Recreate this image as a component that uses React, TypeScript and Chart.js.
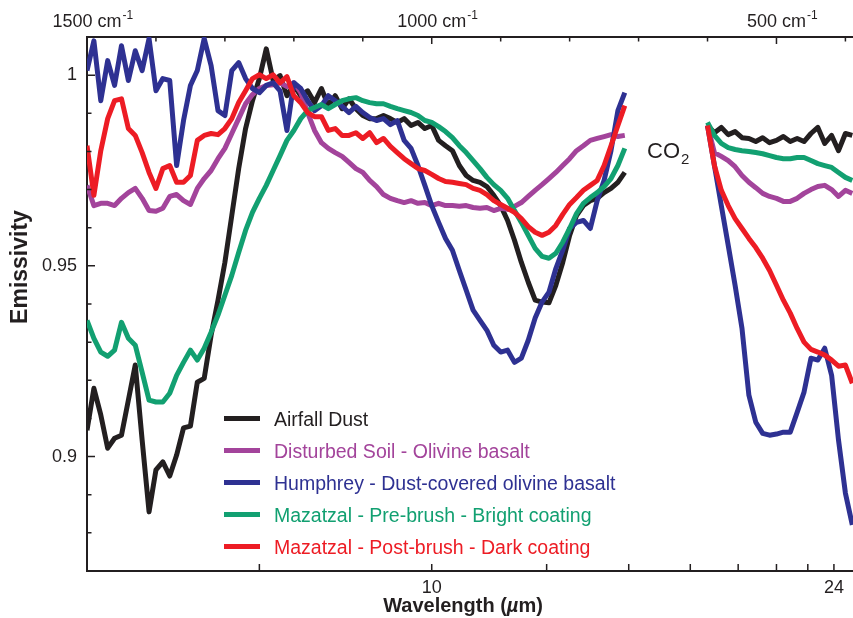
import React, { useEffect, useRef } from "react";
import { Chart, registerables } from "chart.js";

Chart.register(...registerables);

// ---------- data ----------
const WAVENUMBER_LEFT = [
  1500, 1490, 1480, 1470, 1460, 1450, 1440, 1430, 1420, 1410,
  1400, 1390, 1380, 1370, 1360, 1350, 1340, 1330, 1320, 1310,
  1300, 1290, 1280, 1270, 1260, 1250, 1240, 1230, 1220, 1210,
  1200, 1190, 1180, 1170, 1160, 1150, 1140, 1130, 1120, 1110,
  1100, 1090, 1080, 1070, 1060, 1050, 1040, 1030, 1020, 1010,
  1000, 990, 980, 970, 960, 950, 940, 930, 920, 910,
  900, 890, 880, 870, 860, 850, 840, 830, 820, 810,
  800, 790, 780, 770, 760, 750, 740, 730, 720,
];
const WAVENUMBER_RIGHT = [
  600, 590, 580, 570, 560, 550, 540, 530, 520, 510, 500,
  490, 480, 470, 460, 450, 440, 430, 420, 410, 400, 390,
];

const AIRFALL_LEFT = [
  0.9069, 0.9179, 0.9109, 0.9022, 0.9048, 0.9056, 0.9148, 0.924, 0.9043, 0.8855,
  0.8965, 0.8986, 0.8949, 0.9004, 0.9075, 0.908, 0.9195, 0.9205, 0.9318, 0.941,
  0.9509, 0.9632, 0.9755, 0.986, 0.9933, 0.9991, 1.0069, 0.9986, 0.9999, 0.9946,
  0.9973, 0.9946, 0.9959, 0.9928, 0.9965, 0.992, 0.9946, 0.9912, 0.9938, 0.9912,
  0.9894, 0.9886, 0.9886, 0.9894, 0.9886, 0.9876, 0.9886, 0.9868, 0.9876, 0.986,
  0.9868, 0.9829, 0.9815, 0.9802, 0.9763, 0.9737, 0.9724, 0.9719, 0.9708, 0.9685,
  0.9658, 0.9619, 0.9567, 0.9509, 0.9457, 0.941, 0.9405, 0.9403, 0.9449, 0.9509,
  0.958, 0.9632, 0.9658, 0.9671, 0.9677, 0.9692, 0.9703, 0.9719, 0.9745,
];
const AIRFALL_RIGHT = [
  0.9868, 0.9849, 0.9863, 0.9844, 0.9852, 0.9836, 0.9834, 0.9826, 0.9836, 0.9823, 0.9829,
  0.9839, 0.9826, 0.9834, 0.9826, 0.9847, 0.9863, 0.9821, 0.9842, 0.9802, 0.9847, 0.9842,
];

const SOIL_LEFT = [
  0.9711, 0.9658, 0.9664, 0.9664, 0.9658, 0.9677, 0.9692, 0.9703, 0.9677, 0.9645,
  0.9643, 0.9651, 0.9682, 0.9687, 0.9671, 0.9661, 0.9703, 0.9729, 0.975, 0.9781,
  0.9808, 0.9847, 0.9886, 0.9925, 0.9949, 0.9965, 0.9973, 0.9975, 0.998, 0.997,
  0.998, 0.9954, 0.9902, 0.9855, 0.9823, 0.9808, 0.9797, 0.9787, 0.9771, 0.9755,
  0.9745, 0.9724, 0.9708, 0.9687, 0.9677, 0.9671, 0.9666, 0.9671, 0.9664, 0.9666,
  0.9658, 0.9664, 0.9658, 0.9658, 0.9656, 0.9658, 0.9653, 0.9651, 0.9653, 0.9645,
  0.9651, 0.9648, 0.9656, 0.9666, 0.9682, 0.9698, 0.9713, 0.9729, 0.9745, 0.9763,
  0.9781, 0.9802, 0.9815, 0.9829, 0.9834, 0.9839, 0.9844, 0.9839, 0.9842,
];
const SOIL_RIGHT = [
  0.9868, 0.9797, 0.9787, 0.9776, 0.976, 0.9737, 0.9719, 0.9705, 0.969, 0.9682, 0.9677,
  0.9669, 0.9669, 0.9677, 0.969, 0.97, 0.9708, 0.9711, 0.97, 0.9682, 0.9698, 0.969,
];

const HUMPHREY_LEFT = [
  1.0012, 1.009, 0.9933, 1.0038, 0.9973, 1.0077, 0.9986, 1.0064, 1.0012, 1.0096,
  0.9959, 0.9991, 0.9986, 0.9763, 0.9881, 0.9973, 1.0012, 1.0096, 1.0025, 0.9907,
  0.9894, 1.0012, 1.0033, 0.9991, 0.9965, 0.9954, 0.9973, 0.998, 0.9959, 0.9855,
  0.998, 0.9965, 0.9933, 0.9907, 0.992, 0.9946, 0.9933, 0.9918, 0.9902, 0.9918,
  0.9902, 0.9889, 0.9881, 0.9886, 0.987, 0.9881, 0.9829, 0.9808, 0.9763, 0.9711,
  0.9658, 0.9614, 0.9572, 0.9541, 0.9488, 0.9436, 0.9384, 0.9357, 0.9331, 0.9292,
  0.9274, 0.9279, 0.9247, 0.9258, 0.9305, 0.9363, 0.9405, 0.9431, 0.9493, 0.9541,
  0.9598, 0.9614, 0.9619, 0.9598, 0.9671, 0.9724, 0.9802, 0.9907, 0.9954,
];
const HUMPHREY_RIGHT = [
  0.9868, 0.9763, 0.9658, 0.9554, 0.9449, 0.9336, 0.9161, 0.909, 0.9061, 0.9056, 0.9059,
  0.9064, 0.9064, 0.9116, 0.9169, 0.9258, 0.9253, 0.9284, 0.9213, 0.9043, 0.8904, 0.8821,
];

const PREBRUSH_LEFT = [
  0.9357, 0.931, 0.9274, 0.9263, 0.9279, 0.9352, 0.931, 0.9292, 0.9221, 0.9148,
  0.9143, 0.9143, 0.9166, 0.9213, 0.9247, 0.9279, 0.9253, 0.9284, 0.9326, 0.9371,
  0.9423, 0.9475, 0.9535, 0.9593, 0.964, 0.9677, 0.9711, 0.975, 0.9789, 0.9829,
  0.9855, 0.9886, 0.9907, 0.9915, 0.9923, 0.9912, 0.9923, 0.9933, 0.9938, 0.9941,
  0.9933, 0.9928, 0.9925, 0.9925, 0.9918, 0.9912, 0.9907, 0.9902, 0.9894, 0.9881,
  0.9876, 0.9865, 0.9852, 0.9836, 0.9815, 0.9797, 0.9776, 0.9755, 0.9732, 0.9713,
  0.9698, 0.9677, 0.9645, 0.9614, 0.958, 0.9546, 0.9525, 0.952, 0.9533, 0.9562,
  0.9598, 0.9637, 0.9664, 0.9679, 0.9692, 0.9708, 0.9729, 0.9763, 0.9808,
];
const PREBRUSH_RIGHT = [
  0.9876, 0.9842, 0.9821, 0.981, 0.9805, 0.9802, 0.98, 0.9797, 0.9794, 0.9789, 0.9784,
  0.9781, 0.9781, 0.9784, 0.9784, 0.9776, 0.9768, 0.9763, 0.9758, 0.9745, 0.9732, 0.9724,
];

const POSTBRUSH_LEFT = [
  0.9815, 0.9685, 0.9802, 0.9886, 0.9933, 0.9938, 0.986, 0.9842, 0.9797, 0.9745,
  0.9703, 0.9755, 0.9763, 0.9719, 0.9719, 0.9737, 0.9829, 0.9842, 0.9847, 0.9844,
  0.986, 0.9886, 0.9928, 0.9959, 0.9991, 1.0001, 0.9991, 1.0001, 0.998, 0.9996,
  0.9946, 0.9928, 0.9902, 0.9891, 0.9891, 0.9855, 0.986, 0.9842, 0.9842, 0.9849,
  0.9834, 0.9849, 0.9823, 0.9834, 0.9813, 0.9797, 0.9781, 0.9768, 0.9755, 0.975,
  0.974, 0.9729, 0.9721, 0.9719, 0.9716, 0.9713, 0.9703, 0.9698, 0.9687, 0.9671,
  0.9661, 0.9651, 0.964, 0.9624, 0.9603, 0.9588, 0.958, 0.9588, 0.9606, 0.9635,
  0.9661, 0.9679, 0.9698, 0.9711, 0.9724, 0.9763, 0.9815, 0.9868, 0.992,
];
const POSTBRUSH_RIGHT = [
  0.9868, 0.9763, 0.9698, 0.9658, 0.9624, 0.9598, 0.9572, 0.9548, 0.952, 0.9488, 0.9449,
  0.941, 0.9376, 0.9336, 0.93, 0.9281, 0.9274, 0.9266, 0.9253, 0.9237, 0.924, 0.9192,
];

const SERIES_NAMES = [
  "Airfall Dust",
  "Disturbed Soil - Olivine basalt",
  "Humphrey - Dust-covered olivine basalt",
  "Mazatzal - Pre-brush - Bright coating",
  "Mazatzal - Post-brush - Dark coating",
];
const SERIES_COLORS = ["#231f20", "#a3449b", "#2e3192", "#12a071", "#ed1c24"];

const WAVELENGTH_TICKS = [8, 10, 12, 14, 16, 18, 20, 22, 24];
const WAVELENGTH_LABELS = [10, 24];
const WAVENUMBER_TICKS = [1500, 1400, 1300, 1200, 1100, 1000, 900, 800, 700, 600, 500, 400];
const WAVENUMBER_LABELS = [1500, 1000, 500];
const EMISSIVITY_LABELS = [0.9, 0.95, 1];
const EMISSIVITY_MINOR = [0.88, 0.89, 0.91, 0.92, 0.93, 0.94, 0.96, 0.97, 0.98, 0.99];
const X_MIN = 389;
const X_MAX = 1500;
const Y_MIN = 0.87;
const Y_MAX = 1.01;

// ---------- styling ----------
const FONT = '"Liberation Sans", Arial, Helvetica, sans-serif';
const INK = "#231f20";

function joinSegments(left: number[], right: number[]) {
  const gapX = (WAVENUMBER_LEFT[WAVENUMBER_LEFT.length - 1] + WAVENUMBER_RIGHT[0]) / 2;
  return [
    ...WAVENUMBER_LEFT.map((x, i) => ({ x, y: left[i] })),
    { x: gapX, y: null as any },
    ...WAVENUMBER_RIGHT.map((x, i) => ({ x, y: right[i] })),
  ];
}

const SERIES = [
  joinSegments(AIRFALL_LEFT, AIRFALL_RIGHT),
  joinSegments(SOIL_LEFT, SOIL_RIGHT),
  joinSegments(HUMPHREY_LEFT, HUMPHREY_RIGHT),
  joinSegments(PREBRUSH_LEFT, PREBRUSH_RIGHT),
  joinSegments(POSTBRUSH_LEFT, POSTBRUSH_RIGHT),
];

const decorations = {
  id: "decorations",
  afterDraw(chart: any) {
    const { ctx, chartArea: a, scales } = chart;
    const xs = scales.x;
    const xt = scales.xTop;
    const ys = scales.y;
    ctx.save();

    // inward tick marks
    ctx.strokeStyle = INK;
    ctx.lineWidth = 1.5;
    ctx.lineCap = "butt";
    ctx.beginPath();
    for (const v of EMISSIVITY_LABELS) {
      const y = ys.getPixelForValue(v);
      ctx.moveTo(a.left, y);
      ctx.lineTo(a.left + 8, y);
    }
    for (const v of EMISSIVITY_MINOR) {
      const y = ys.getPixelForValue(v);
      ctx.moveTo(a.left, y);
      ctx.lineTo(a.left + 4.5, y);
    }
    for (const l of WAVELENGTH_TICKS) {
      const x = xs.getPixelForValue(10000 / l);
      ctx.moveTo(x, a.bottom);
      ctx.lineTo(x, a.bottom - 7);
    }
    for (const w of WAVENUMBER_TICKS) {
      const x = xt.getPixelForValue(w);
      const len = WAVENUMBER_LABELS.includes(w) ? 7 : 4.5;
      ctx.moveTo(x, a.top);
      ctx.lineTo(x, a.top + len);
    }
    ctx.stroke();

    // top wavenumber labels with superscript
    ctx.fillStyle = INK;
    ctx.textBaseline = "alphabetic";
    ctx.textAlign = "left";
    for (const w of WAVENUMBER_LABELS) {
      const x = xt.getPixelForValue(w);
      ctx.font = `18px ${FONT}`;
      const main = `${w} cm`;
      const wm = ctx.measureText(main).width;
      ctx.fillText(main, x - wm / 2, 27);
      ctx.font = `12px ${FONT}`;
      ctx.fillText("-1", x + wm / 2 + 1, 19);
    }

    // y title
    ctx.save();
    ctx.translate(27, 267);
    ctx.rotate(-Math.PI / 2);
    ctx.font = `bold 23px ${FONT}`;
    ctx.textAlign = "center";
    ctx.textBaseline = "alphabetic";
    ctx.fillText("Emissivity", 0, 0);
    ctx.restore();

    // x title with italic mu
    const parts: [string, string][] = [
      ["Wavelength (", `bold 20px ${FONT}`],
      ["\u00b5", `italic bold 20px ${FONT}`],
      ["m)", `bold 20px ${FONT}`],
    ];
    let total = 0;
    for (const [t, f] of parts) {
      ctx.font = f;
      total += ctx.measureText(t).width;
    }
    let tx = 463 - total / 2;
    ctx.textAlign = "left";
    for (const [t, f] of parts) {
      ctx.font = f;
      ctx.fillText(t, tx, 612);
      tx += ctx.measureText(t).width;
    }

    // CO2 annotation
    ctx.font = `22px ${FONT}`;
    ctx.fillText("CO", 647, 158);
    const wco = ctx.measureText("CO").width;
    ctx.font = `15px ${FONT}`;
    ctx.fillText("2", 647 + wco + 1, 164);

    // legend
    const rows = [418.6, 450.6, 482.6, 514.6, 546.6];
    SERIES_NAMES.forEach((name, i) => {
      const y = rows[i];
      ctx.strokeStyle = SERIES_COLORS[i];
      ctx.lineWidth = 5;
      ctx.beginPath();
      ctx.moveTo(224, y);
      ctx.lineTo(260, y);
      ctx.stroke();
      ctx.fillStyle = SERIES_COLORS[i];
      ctx.font = `19.5px ${FONT}`;
      ctx.fillText(name, 274, y + 7);
    });

    ctx.restore();
  },
};

export default function App() {
  const ref = useRef<HTMLCanvasElement>(null);

  useEffect(() => {
    if (!ref.current) return;
    const drawOrder = [4, 3, 2, 1, 0];
    const chart = new Chart(ref.current, {
      type: "line",
      data: {
        datasets: SERIES.map((data, i) => ({
          label: SERIES_NAMES[i],
          data,
          borderColor: SERIES_COLORS[i],
          backgroundColor: SERIES_COLORS[i],
          borderWidth: 5,
          pointRadius: 0,
          tension: 0,
          fill: false,
          spanGaps: false,
          clip: 0,
          borderJoinStyle: "round",
          order: drawOrder[i],
        })) as any,
      },
      options: {
        responsive: false,
        animation: false,
        layout: { padding: 0 },
        events: [],
        plugins: {
          legend: { display: false },
          tooltip: { enabled: false },
        },
        scales: {
          x: {
            type: "linear",
            position: "bottom",
            min: X_MIN,
            max: X_MAX,
            reverse: true,
            afterBuildTicks: (s: any) => {
              s.ticks = WAVELENGTH_TICKS.map((l) => ({ value: 10000 / l }));
            },
            afterFit: (s: any) => {
              s.height = 47;
            },
            grid: { display: false, drawTicks: false },
            border: { display: true, color: INK, width: 2 },
            ticks: {
              autoSkip: false,
              maxRotation: 0,
              padding: 6,
              color: INK,
              font: { family: FONT, size: 18 },
              callback: (v: any) => {
                const l = Math.round(10000 / Number(v));
                return WAVELENGTH_LABELS.includes(l) ? String(l) : "";
              },
            },
          },
          xTop: {
            type: "linear",
            position: "top",
            min: X_MIN,
            max: X_MAX,
            reverse: true,
            afterFit: (s: any) => {
              s.height = 37;
            },
            grid: { display: false, drawTicks: false },
            border: { display: true, color: INK, width: 2 },
            ticks: { display: false },
          },
          y: {
            type: "linear",
            position: "left",
            min: Y_MIN,
            max: Y_MAX,
            afterBuildTicks: (s: any) => {
              s.ticks = EMISSIVITY_LABELS.map((v) => ({ value: v }));
            },
            afterFit: (s: any) => {
              s.width = 87;
            },
            grid: { display: false, drawTicks: false },
            border: { display: true, color: INK, width: 2 },
            ticks: {
              autoSkip: false,
              padding: 10,
              color: INK,
              font: { family: FONT, size: 18 },
              callback: (v: any) => String(Number(Number(v).toFixed(2))),
            },
          },
        } as any,
      },
      plugins: [decorations],
    });
    return () => chart.destroy();
  }, []);

  return (
    <div style={{ position: "absolute", left: 0, top: 0, width: 853, height: 618, background: "#fff" }}>
      <canvas ref={ref} width={853} height={618} style={{ display: "block" }} />
    </div>
  );
}
